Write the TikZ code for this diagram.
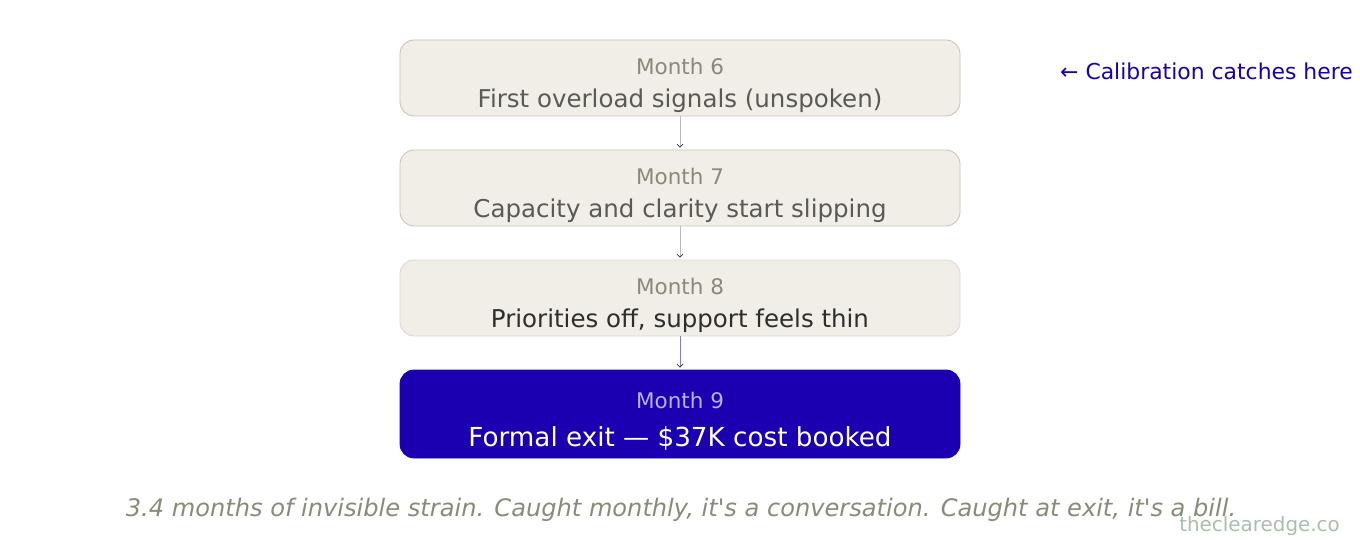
\documentclass[tikz,border=0pt]{standalone}
\usepackage{fontspec}
\setmainfont{DejaVu Sans}[Ligatures=TeXOff]
\usetikzlibrary{arrows.meta}
\definecolor{boxfill}{HTML}{F1EEE7}
\definecolor{boxline}{HTML}{C8C1B5}
\definecolor{boxlinelt}{HTML}{DDD8CE}
\definecolor{monthc}{HTML}{8A8A7A}
\definecolor{mainc}{HTML}{5A5A55}
\definecolor{maindark}{HTML}{2E2E2A}
\definecolor{accent}{HTML}{1A00B0}
\definecolor{accentlt}{HTML}{B8B0F0}
\definecolor{arrowline}{HTML}{BBBBBB}
\definecolor{arrowacc}{HTML}{8877DD}
\definecolor{wmark}{HTML}{A8C0A8}
\begin{document}
\begin{tikzpicture}[x=1pt,y=-1pt,
  stagebox/.style={draw=boxline, fill=boxfill, rounded corners=14pt, line width=0.8pt, minimum width=560pt, minimum height=76pt, inner sep=0pt},
  monthtxt/.style={anchor=base, text=monthc, font=\fontsize{21.5}{26}\selectfont, inner sep=0pt},
  maintxt/.style={anchor=base, text=mainc, font=\fontsize{24.5}{29}\selectfont, inner sep=0pt},
  flow/.style={draw=arrowline, line width=0.8pt, -{Straight Barb[length=3pt,width=6pt,line width=0.7pt,color=black!80]}, shorten >=2pt}
]
\useasboundingbox[fill=white] (0,0) rectangle (1360,540);

\node[stagebox] (b1) at (680,78) {};
\node[stagebox] (b2) at (680,188) {};
\node[stagebox, draw=boxlinelt] (b3) at (680,298) {};
\node[stagebox, draw=accent, fill=accent, minimum height=88pt] (b4) at (680,414) {};

\node[monthtxt] (m1) at (680,74.5) {Month 6};
\node[maintxt] (t1) at (680,107.5) {First overload signals (unspoken)};
\node[monthtxt] (m2) at (680,184.5) {Month 7};
\node[maintxt] (t2) at (680,217.5) {Capacity and clarity start slipping};
\node[monthtxt] (m3) at (680,294.5) {Month 8};
\node[maintxt, text=maindark] (t3) at (680,327.5) {Priorities off, support feels thin};
\node[monthtxt, text=accentlt] (m4) at (680,408.5) {Month 9};
\node[maintxt, text=white, font=\fontsize{26.2}{31}\selectfont] (t4) at (680,446) {Formal exit — \$37K cost booked};

\draw[flow] (b1.south) -- (b2.north);
\draw[flow] (b2.south) -- (b3.north);
\draw[flow, draw=arrowacc] (b3.south) -- (b4.north);

\node[anchor=base west, inner sep=0pt, text=accent, font=\fontsize{21.9}{26}\selectfont] (note) at (1060,79.5) {← Calibration catches here};

\node[anchor=base, inner sep=0pt, text=monthc, font=\fontsize{24.1}{28}\itshape] (cap) at (681,516) {3.4 months of invisible strain. Caught monthly, it's a conversation. Caught at exit, it's a bill.};

\node[anchor=base east, inner sep=0pt, text=wmark, font=\fontsize{19.9}{23}\selectfont] (wm) at (1340,531) {theclearedge.co};
\end{tikzpicture}
\end{document}
